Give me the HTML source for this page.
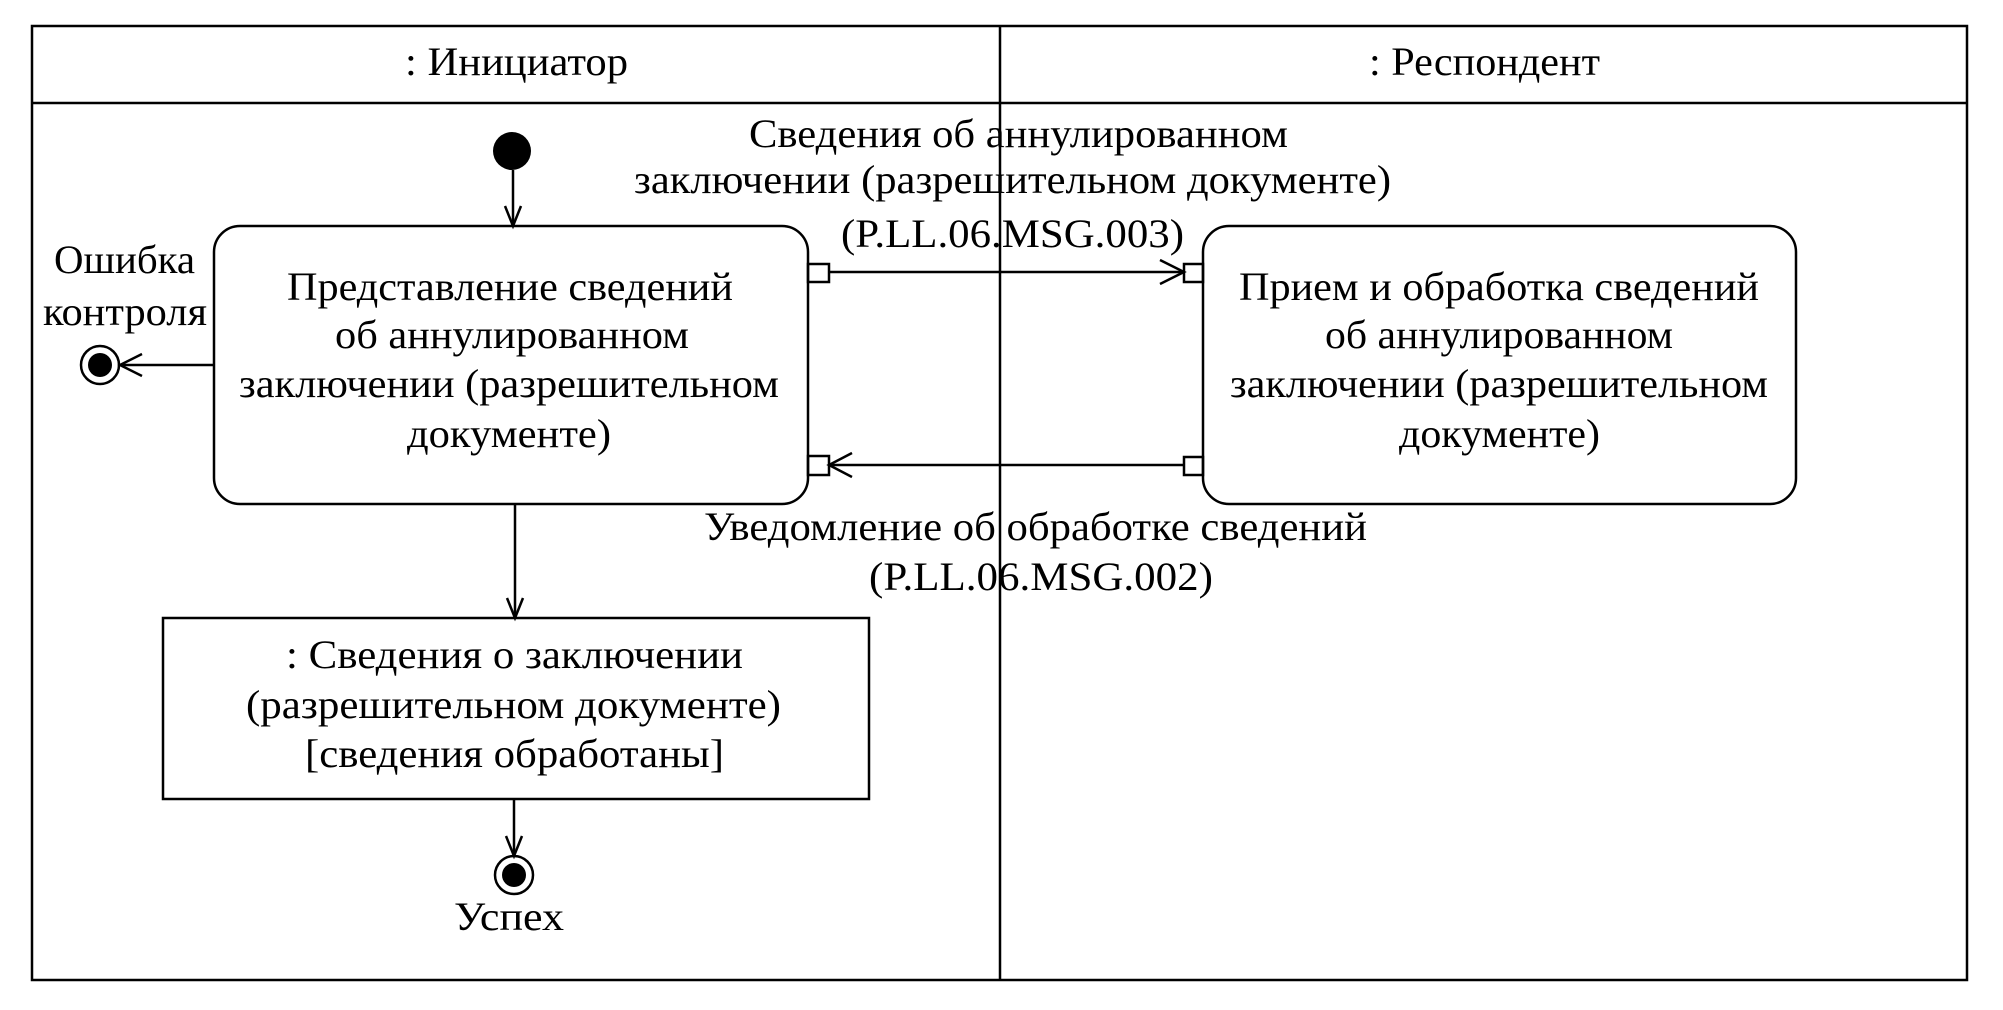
<!DOCTYPE html>
<html><head><meta charset="utf-8"><style>
html,body{margin:0;padding:0;background:#fff;}
svg{display:block;}
text{font-family:"Liberation Serif",serif;font-size:40px;fill:#000;}
</style></head><body>
<svg width="2003" height="1010" viewBox="0 0 2003 1010" xmlns="http://www.w3.org/2000/svg">
<g fill="none" stroke="#000" stroke-width="2.5">
<rect x="32" y="26" width="1935" height="954"/>
<line x1="32" y1="103" x2="1967" y2="103"/>
<line x1="1000" y1="26" x2="1000" y2="980"/>
<rect x="214" y="226" width="594" height="278" rx="26"/>
<rect x="1203" y="226" width="593" height="278" rx="26"/>
<rect x="163" y="618" width="706" height="181"/>
<line x1="513" y1="170" x2="513" y2="226"/>
<polyline points="505,206 513,226 521,206"/>
<line x1="214" y1="365" x2="120" y2="365"/>
<polyline points="142,354 120,365 142,376"/>
<circle cx="100" cy="365" r="19"/>
<rect x="808" y="264" width="21" height="18"/>
<rect x="1184" y="264" width="19" height="18"/>
<line x1="829" y1="272" x2="1184" y2="272"/>
<polyline points="1160,260 1184,272 1160,284"/>
<rect x="808" y="456" width="21" height="19"/>
<rect x="1184" y="457" width="19" height="18"/>
<line x1="1184" y1="465" x2="829" y2="465"/>
<polyline points="852,453 829,465 852,477"/>
<line x1="515" y1="504" x2="515" y2="618"/>
<polyline points="507,598 515,618 523,598"/>
<line x1="514" y1="799" x2="514" y2="856"/>
<polyline points="506,836 514,856 522,836"/>
<circle cx="514" cy="875" r="19"/>
</g>
<circle cx="512" cy="151" r="19" fill="#000"/>
<circle cx="100" cy="365" r="12" fill="#000"/>
<circle cx="514" cy="875" r="12" fill="#000"/>
<text x="405" y="75" textLength="223" lengthAdjust="spacingAndGlyphs">: Инициатор</text>
<text x="1369" y="75" textLength="231" lengthAdjust="spacingAndGlyphs">: Респондент</text>
<text x="287" y="300" textLength="446" lengthAdjust="spacingAndGlyphs">Представление сведений</text>
<text x="335" y="348" textLength="354" lengthAdjust="spacingAndGlyphs">об аннулированном</text>
<text x="239" y="397" textLength="540" lengthAdjust="spacingAndGlyphs">заключении (разрешительном</text>
<text x="407" y="447" textLength="204" lengthAdjust="spacingAndGlyphs">документе)</text>
<text x="1239" y="300" textLength="520" lengthAdjust="spacingAndGlyphs">Прием и обработка сведений</text>
<text x="1325" y="348" textLength="348" lengthAdjust="spacingAndGlyphs">об аннулированном</text>
<text x="1230" y="397" textLength="538" lengthAdjust="spacingAndGlyphs">заключении (разрешительном</text>
<text x="1399" y="447" textLength="201" lengthAdjust="spacingAndGlyphs">документе)</text>
<text x="54" y="273" textLength="141" lengthAdjust="spacingAndGlyphs">Ошибка</text>
<text x="43" y="325" textLength="164" lengthAdjust="spacingAndGlyphs">контроля</text>
<text x="749" y="147" textLength="539" lengthAdjust="spacingAndGlyphs">Сведения об аннулированном</text>
<text x="634" y="193" textLength="757" lengthAdjust="spacingAndGlyphs">заключении (разрешительном документе)</text>
<text x="841" y="247" textLength="343" lengthAdjust="spacingAndGlyphs">(P.LL.06.MSG.003)</text>
<text x="704" y="540" textLength="663" lengthAdjust="spacingAndGlyphs">Уведомление об обработке сведений</text>
<text x="869" y="590" textLength="344" lengthAdjust="spacingAndGlyphs">(P.LL.06.MSG.002)</text>
<text x="286" y="668" textLength="457" lengthAdjust="spacingAndGlyphs">: Сведения о заключении</text>
<text x="246" y="718" textLength="535" lengthAdjust="spacingAndGlyphs">(разрешительном документе)</text>
<text x="305" y="767" textLength="419" lengthAdjust="spacingAndGlyphs">[сведения обработаны]</text>
<text x="454" y="930" textLength="110" lengthAdjust="spacingAndGlyphs">Успех</text>
</svg>
</body></html>
